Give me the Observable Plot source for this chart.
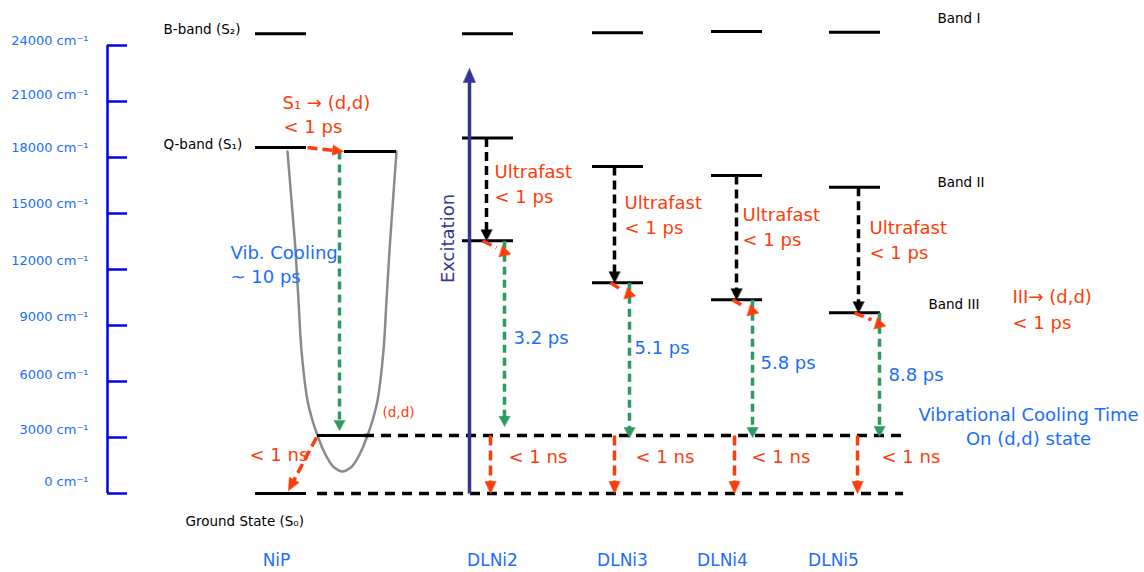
<!DOCTYPE html>
<html><head><meta charset="utf-8">
<script src="https://cdn.jsdelivr.net/npm/d3@7"></script>
<script src="https://cdn.jsdelivr.net/npm/@observablehq/plot@0.6"></script>
<style>body{margin:0;background:#fff}svg{display:block}</style>
</head><body><div id="chart"></div>
<script>
// ---------------- data (energies in cm⁻¹) ----------------
const yTicks = [0, 3000, 6000, 9000, 12000, 15000, 18000, 21000, 24000];
const tickLabels = ["0 cm⁻¹", "3000 cm⁻¹", "6000 cm⁻¹", "9000 cm⁻¹", "12000 cm⁻¹", "15000 cm⁻¹", "18000 cm⁻¹", "21000 cm⁻¹", "24000 cm⁻¹"];
const compounds = ["DLNi2", "DLNi3", "DLNi4", "DLNi5"];
const bandI   = [24630, 24680, 24750, 24710];
const bandII  = [19050, 17520, 17030, 16410];
const bandIII = [13540, 11290, 10380, 9680];
const coolingTip = [3600, 3000, 3000, 3050];
const coolingTimes = ["3.2 ps", "5.1 ps", "5.8 ps", "8.8 ps"];
const nipS2 = 24630, nipS1 = 18530, nipS1dd = 18320, nipCoolingTip = 3380;
const ddEnergy = 3110, groundEnergy = 0, excitationTip = 22770;
const nipNsStart = 3000, nipNsTip = 160;
const wellE = [18320, 15700, 13020, 10340, 7660, 4980, 3910, 3110, 2300, 1660, 1390, 1180, 1390, 1660, 2300, 3110, 3910, 4980, 7660, 10340, 13020, 15700, 18320];
const bottomLabels = ["NiP", "DLNi2", "DLNi3", "DLNi4", "DLNi5"];
const blackLabels = ["B-band (S₂)", "Q-band (S₁)", "Ground State (S₀)", "Band I", "Band II", "Band III"];

// ---------------- layout (horizontal positions, label placement) ----------------
const W = 1144, H = 572;
const yDomain = [0, 24000], yRange = [493, 45];
const axisX = 107, tickLen = 20, tickLabelX = 88;
const tickLabelDy = [-12, -8, -7, -9, -9, -10, -10, -7, -5];
const nipX = [255, 306], nipS1ddX = [344, 396], ddSolidX = [317, 364], dashEnd = 903, groundDashStart = 317;
const wellX = [287, 291, 295, 298, 301, 307, 312, 317, 323, 329.5, 333.7, 342, 350.3, 354.5, 361, 367, 372, 377, 383, 386, 389, 392.5, 396];
const colLeft = [462, 592, 711, 829], levelW = 51;
const excitX = 469, nipGreenX = 339, nipS1ArrowX = [307, 343], nipNsX = [316, 288];
const blackX = [486, 614, 736, 858];
const greenX = [504, 629, 752, 879];
const redX = [490, 614, 734, 857];
const ultraX = [494, 624, 742, 869], ultraE = [17196, 15552, 14893, 14196], ultraPsE = [15857, 14213, 13554, 12857];
const psX = [513, 634, 760, 888], psE = [8304, 7768, 6964, 6321];
const nsX = [508, 635, 751, 881], nsE = 1929;
const bottomX = [276, 492, 622, 722, 833], bottomE = -3589;
const blackLabelX = [163, 163, 185, 937, 937, 928], blackLabelE = [24857, 18696, -1500, 25446, 16661, 10125];

const RED = "#ff3c0a", GREEN = "#2f9a60", BLUE = "#1a6dff", AXIS = "#0000e6", NAVY = "#333399", GRAY = "#8a8a8a";
const FONT = "DejaVu Sans";

const X = d3.scaleLinear([0, W], [0, W]);
const Y = d3.scaleLinear(yDomain, yRange);

function headPolygon(tip, dir, w, h, id) {
  const bx = tip[0] - dir[0] * h, by = tip[1] - dir[1] * h, nx = -dir[1], ny = dir[0];
  return [[tip[0], tip[1]], [bx + nx * w / 2, by + ny * w / 2], [bx - nx * w / 2, by - ny * w / 2]]
    .map(([px, py]) => ({id, x: X.invert(px), e: Y.invert(py)}));
}
function makeArrow(x1, e1, x2, e2, w, h, id) {
  const a = [X(x1), Y(e1)], b = [X(x2), Y(e2)];
  const L = Math.hypot(b[0] - a[0], b[1] - a[1]);
  const u = [(b[0] - a[0]) / L, (b[1] - a[1]) / L];
  const s = [b[0] - u[0] * (h - 1), b[1] - u[1] * (h - 1)];
  return {shaft: {x1, e1, x2: X.invert(s[0]), e2: Y.invert(s[1])}, head: headPolygon(b, u, w, h, id)};
}

const black = compounds.map((c, i) => makeArrow(blackX[i], bandII[i], blackX[i], bandIII[i], 11, 11, "k" + i));
const green = compounds.map((c, i) => makeArrow(greenX[i], bandIII[i], greenX[i], coolingTip[i], 11, 10, "g" + i));
green.push(makeArrow(nipGreenX, nipS1dd, nipGreenX, nipCoolingTip, 11, 10, "gn"));
const red = compounds.map((c, i) => makeArrow(redX[i], ddEnergy, redX[i], groundEnergy, 11, 12, "r" + i));
red.push(makeArrow(nipNsX[0], nipNsStart, nipNsX[1], nipNsTip, 11, 12, "rn"));
red.push(makeArrow(nipS1ArrowX[0], nipS1, nipS1ArrowX[1], nipS1dd, 10, 11, "rs"));
const excit = makeArrow(excitX, groundEnergy, excitX, excitationTip, 12, 14, "ex");

// short red dashes from Band III towards the cooling arrows, with upward heads
const redDiag = compounds.map((c, i) => {
  const lv = Y(bandIII[i]);
  return {x1: blackX[i] - 4, e1: bandIII[i], x2: greenX[i] - 8, e2: Y.invert(lv + 7)};
});
const dl = Math.hypot(0.25, 1);
const redDiagHeads = compounds.flatMap((c, i) =>
  headPolygon([X(greenX[i] - 2), Y(bandIII[i]) + 5], [-0.25 / dl, -1 / dl], 12, 10, "d" + i));

const levels = [];
compounds.forEach((c, i) => {
  for (const e of [bandI[i], bandII[i], bandIII[i]]) levels.push({x1: colLeft[i], x2: colLeft[i] + levelW, e});
});
levels.push({x1: nipX[0], x2: nipX[1], e: nipS2}, {x1: nipX[0], x2: nipX[1], e: nipS1},
  {x1: nipS1ddX[0], x2: nipS1ddX[1], e: nipS1dd}, {x1: ddSolidX[0], x2: ddSolidX[1], e: ddEnergy},
  {x1: nipX[0], x2: nipX[1], e: groundEnergy});
const dashed = [{x1: ddSolidX[1], x2: dashEnd, e: ddEnergy}, {x1: groundDashStart, x2: dashEnd, e: groundEnergy}];

const well = wellX.map((x, i) => ({x, e: wellE[i]}));

const shaftOpts = (stroke, dash, sw = 3.5) => ({x1: "x1", y1: "e1", x2: "x2", y2: "e2", stroke, strokeWidth: sw, strokeDasharray: dash});
const headOpts = (c) => ({x: "x", y: "e", z: "id", fill: c, stroke: c, strokeWidth: 0.5, curve: "linear-closed"});

const chart = Plot.plot({
  width: W, height: H,
  x: {domain: [0, W], range: [0, W], axis: null},
  y: {domain: yDomain, range: yRange, axis: null},
  style: {fontFamily: FONT, background: "white"},
  marks: [
    // axis
    Plot.ruleX([axisX], {y1: yDomain[0], y2: yDomain[1], stroke: AXIS, strokeWidth: 2.5}),
    Plot.ruleY(yTicks, {y: d => d, x1: axisX, x2: axisX + tickLen, stroke: AXIS, strokeWidth: 2.5}),
    Plot.text(yTicks, {x: tickLabelX, y: (d, i) => Y.invert(Y(d) + tickLabelDy[i]), text: (d, i) => tickLabels[i], textAnchor: "end", fill: BLUE, fontSize: 13}),
    // potential well
    Plot.line(well, {x: "x", y: "e", stroke: GRAY, strokeWidth: 2.5, curve: "catmull-rom"}),
    // levels
    Plot.ruleY(dashed, {y: "e", x1: "x1", x2: "x2", stroke: "black", strokeWidth: 3.5, strokeDasharray: "10,7"}),
    Plot.ruleY(levels, {y: "e", x1: "x1", x2: "x2", stroke: "black", strokeWidth: 3}),
    // arrows
    Plot.link([excit.shaft], shaftOpts(NAVY, null, 3.5)),
    Plot.line(excit.head, headOpts(NAVY)),
    Plot.link(black.map(a => a.shaft), shaftOpts("black", "9,5")),
    Plot.line(black.flatMap(a => a.head), headOpts("black")),
    Plot.link(green.map(a => a.shaft), shaftOpts(GREEN, "8,5")),
    Plot.line(green.flatMap(a => a.head), headOpts(GREEN)),
    Plot.link(red.map(a => a.shaft), shaftOpts(RED, "10,5")),
    Plot.line(red.flatMap(a => a.head), headOpts(RED)),
    Plot.link(redDiag, shaftOpts(RED, "10,5")),
    Plot.line(redDiagHeads, headOpts(RED)),
    // black labels
    Plot.text(blackLabels, {x: (d, i) => blackLabelX[i], y: (d, i) => blackLabelE[i], text: d => d, textAnchor: "start", fill: "black", fontSize: 13.5}),
    // red annotations
    Plot.text(compounds, {x: (d, i) => ultraX[i], y: (d, i) => ultraE[i], text: () => "Ultrafast", textAnchor: "start", fill: RED, fontSize: 18}),
    Plot.text(compounds, {x: (d, i) => ultraX[i], y: (d, i) => ultraPsE[i], text: () => "< 1 ps", textAnchor: "start", fill: RED, fontSize: 18}),
    Plot.text(compounds, {x: (d, i) => nsX[i], y: nsE, text: () => "< 1 ns", textAnchor: "start", fill: RED, fontSize: 18}),
    Plot.text(["S₁ → (d,d)", "< 1 ps", "< 1 ns", "III→ (d,d)", "< 1 ps"], {
      x: (d, i) => [282, 283, 249, 1012, 1012][i], y: (d, i) => [20893, 19607, 2036, 10500, 9107][i],
      text: d => d, textAnchor: "start", fill: RED, fontSize: 18}),
    Plot.text(["(d,d)"], {x: 382, y: 4339, text: d => d, textAnchor: "start", fill: RED, fontSize: 13.5}),
    // blue annotations
    Plot.text(coolingTimes, {x: (d, i) => psX[i], y: (d, i) => psE[i], text: d => d, textAnchor: "start", fill: BLUE, fontSize: 18}),
    Plot.text(["Vib. Cooling", "~ 10 ps"], {x: 230, y: (d, i) => [12873, 11588][i], text: d => d, textAnchor: "start", fill: BLUE, fontSize: 18}),
    Plot.text(["Vibrational Cooling Time", "On (d,d) state"], {x: 1028, y: (d, i) => [4179, 2893][i], text: d => d, textAnchor: "middle", fill: BLUE, fontSize: 18}),
    Plot.text(bottomLabels, {x: (d, i) => bottomX[i], y: bottomE, text: d => d, textAnchor: "middle", fill: BLUE, fontSize: 17}),
    // excitation label
    Plot.text(["Excitation"], {x: 448, y: 13661, text: d => d, rotate: -90, fill: NAVY, fontSize: 18})
  ]
});
document.getElementById("chart").appendChild(chart);
</script>
</body></html>
